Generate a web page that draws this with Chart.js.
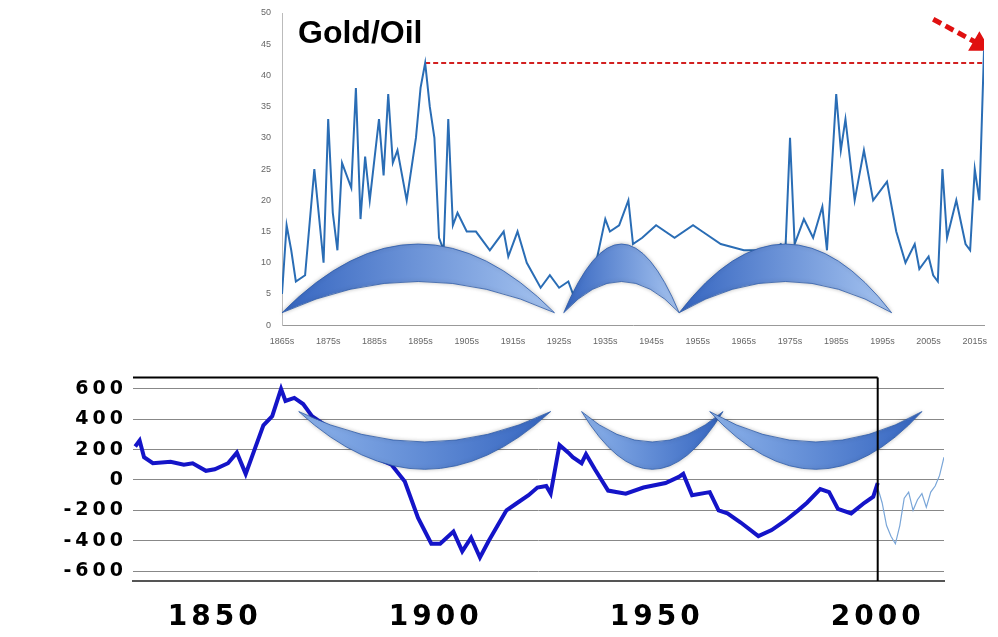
<!DOCTYPE html>
<html>
<head>
<meta charset="utf-8">
<script src="https://cdn.jsdelivr.net/npm/chart.js@4"></script>
<style>
  body { margin: 0; background: #fff; width: 998px; height: 637px; position: relative; overflow: hidden; }
  #topWrap { position: absolute; left: 240px; top: 0; width: 758px; height: 350px; }
  #botWrap { position: absolute; left: 0; top: 360px; width: 998px; height: 277px; }
  #title { position: absolute; left: 298px; top: 14px; font: bold 32px "Liberation Sans", Arial, sans-serif; color: #000; }
</style>
</head>
<body>
<div id="botWrap"><canvas id="botChart"></canvas></div>
<div id="topWrap"><canvas id="topChart"></canvas></div>
<div id="title">Gold/Oil</div>
<script>
// Gold/Oil ratio (top)
const ratioYears = [1865,1866,1867,1868,1870,1872,1874,1875,1876,1877,1878,1880,1881,1882,1883,1884,1886,1887,1888,1889,1890,1892,1894,1895,1896,1897,1898,1899,1900,1901,1902,1903,1905,1907,1910,1913,1914,1916,1918,1921,1923,1925,1927,1928,1930,1933,1935,1936,1938,1940,1941,1943,1946,1950,1954,1956,1960,1965,1970,1971,1973,1974,1975,1976,1978,1980,1982,1983,1985,1986,1987,1989,1991,1993,1996,1998,2000,2002,2003,2005,2006,2007,2008,2009,2011,2013,2014,2015,2016,2017];
const ratioValues = [5,16,12,7,8,25,10,33,18,12,26,22,38,17,27,20,33,24,37,26,28,20,30,38,42,35,30,14,12,33,16,18,15,15,12,15,11,15,10,6,8,6,7,5,6,10,17,15,16,20,13,14,16,14,16,15,13,12,12,12,13,12,30,13,17,14,19,12,37,28,33,20,28,20,23,15,10,13,9,11,8,7,25,14,20,13,12,25,20,44];
const peakLineYears = [1896, 2017];
const peakLineValues = [42, 42];
const arrowYears = [2006, 2016];
const arrowValues = [49, 45];
const ratioTicks = [1865,1875,1885,1895,1905,1915,1925,1935,1945,1955,1965,1975,1985,1995,2005,2015];

// bottom series
const devYears = [1832,1833,1834,1836,1840,1843,1845,1848,1850,1853,1855,1857,1859,1861,1863,1865,1866,1868,1870,1872,1875,1878,1882,1886,1890,1893,1896,1899,1901,1904,1906,1908,1910,1912,1914,1916,1918,1921,1923,1925,1926,1928,1930,1931,1933,1934,1936,1939,1943,1947,1952,1955,1956,1958,1962,1964,1966,1969,1973,1976,1979,1982,1984,1987,1989,1991,1994,1997,1999,2000];
const devValues = [220,260,150,110,120,100,110,60,70,110,180,40,200,360,420,600,520,540,500,420,360,280,200,150,100,-10,-250,-420,-420,-340,-470,-380,-510,-400,-300,-200,-160,-100,-50,-40,-90,230,180,150,110,170,70,-70,-90,-50,-20,20,40,-100,-80,-200,-220,-280,-370,-330,-270,-200,-150,-60,-80,-190,-220,-150,-110,-20];
const tailYears = [2000,2001,2002,2003,2004,2005,2006,2007,2008,2009,2010,2011,2012,2013,2014,2015,2016];
const tailValues = [-50,-150,-300,-370,-420,-300,-120,-80,-200,-130,-90,-180,-80,-40,30,150,260];
const devTicks = [-600,-400,-200,0,200,400,600];
const yearTicks = [1850,1900,1950,2000];

// crescent spans (years) for decorative arrows
const topArcs = [[1865,1924],[1926,1951],[1951,1997]];
const botArcs = [[1869,1926],[1933,1965],[1962,2010]];

function crescents(spans, up, yEnd, yOuter, yInner) {
  return {
    id: 'crescents',
    afterDatasetsDraw(chart) {
      const c = chart.ctx, xs = chart.scales.x, ys = chart.scales.y;
      c.save();
      spans.forEach(s => {
        const x1 = xs.getPixelForValue(s[0]), x2 = xs.getPixelForValue(s[1]);
        const ye = ys.getPixelForValue(yEnd), yo = ys.getPixelForValue(yOuter), yi = ys.getPixelForValue(yInner);
        const xm = (x1 + x2) / 2;
        const g = c.createLinearGradient(x1, 0, x2, 0);
        g.addColorStop(0, up ? '#3565c0' : '#8cb2ea');
        g.addColorStop(1, up ? '#a6c4f0' : '#3565c0');
        c.beginPath();
        c.moveTo(x1, ye);
        c.quadraticCurveTo(xm, 2 * yo - ye, x2, ye);
        c.quadraticCurveTo(xm, 2 * yi - ye, x1, ye);
        c.closePath();
        c.fillStyle = g;
        c.shadowColor = 'rgba(0,0,0,0.25)';
        c.shadowBlur = 4;
        c.fill();
        c.strokeStyle = '#2c5aa8';
        c.lineWidth = 0.8;
        c.stroke();
      });
      c.restore();
    }
  };
}

new Chart(document.getElementById('topChart'), {
  type: 'line',
  data: {
    datasets: [
      { data: ratioYears.map((x, i) => ({x, y: ratioValues[i]})), borderColor: '#2a6db5', borderWidth: 2, pointRadius: 0, tension: 0 },
      { data: peakLineYears.map((x, i) => ({x, y: peakLineValues[i]})), borderColor: '#d22020', borderWidth: 2, borderDash: [5, 3], pointRadius: 0 },
      { data: arrowYears.map((x, i) => ({x, y: arrowValues[i]})), borderColor: '#e01010', borderWidth: 5, borderDash: [9, 5],
        pointRadius: [0, 8], pointStyle: 'triangle', pointRotation: [0, 120], pointBackgroundColor: '#e01010', pointBorderColor: '#e01010' }
    ]
  },
  options: {
    responsive: true, maintainAspectRatio: false, animation: false,
    layout: { padding: { top: 8, right: 14, left: 0, bottom: 0 } },
    plugins: { legend: { display: false }, tooltip: { enabled: false } },
    scales: {
      x: { type: 'linear', min: 1865, max: 2017,
        afterBuildTicks: a => { a.ticks = ratioTicks.map(v => ({value: v})); },
        ticks: { color: '#666', font: { size: 9 }, maxRotation: 0, autoSkip: false, callback: v => v + 's' },
        grid: { display: false }, border: { color: '#999' } },
      y: { min: 0, max: 50, afterFit: a => { a.width = 42; },
        ticks: { stepSize: 5, color: '#666', font: { size: 9 } },
        grid: { display: false }, border: { color: '#bbb' } }
    }
  },
  plugins: [crescents(topArcs, true, 2, 13, 7)]
});

// wide, spaced-out tick lettering like the pasted picture
const spacing = {
  id: 'spacing',
  beforeDraw(chart) { chart.ctx.letterSpacing = '4px'; },
  afterDraw(chart) {
    const c = chart.ctx, xs = chart.scales.x, ys = chart.scales.y;
    c.save();
    c.strokeStyle = '#000';
    c.lineWidth = 2;
    c.beginPath();
    c.moveTo(xs.left, ys.top); c.lineTo(xs.getPixelForValue(2000), ys.top);
    c.moveTo(xs.getPixelForValue(2000), ys.top); c.lineTo(xs.getPixelForValue(2000), ys.bottom);
    c.stroke();
    c.restore();
  }
};

new Chart(document.getElementById('botChart'), {
  type: 'line',
  data: {
    datasets: [
      { data: devYears.map((x, i) => ({x, y: devValues[i]})), borderColor: '#1414c8', borderWidth: 4, pointRadius: 0 },
      { data: tailYears.map((x, i) => ({x, y: tailValues[i]})), borderColor: '#7aa6d8', borderWidth: 1.2, pointRadius: 0 }
    ]
  },
  options: {
    responsive: true, maintainAspectRatio: false, animation: false,
    layout: { padding: { top: 6, right: 54, left: 0, bottom: 0 } },
    plugins: { legend: { display: false }, tooltip: { enabled: false } },
    scales: {
      x: { type: 'linear', min: 1831.5, max: 2015,
        afterBuildTicks: a => { a.ticks = yearTicks.map(v => ({value: v})); },
        afterFit: a => { a.height = 56; },
        ticks: { color: '#000', font: { family: 'DejaVu Sans', size: 28, weight: 'bold' }, maxRotation: 0, autoSkip: false, padding: 12, callback: v => String(v) },
        grid: { display: false }, border: { color: '#555', width: 2 } },
      y: { min: -665, max: 675,
        afterBuildTicks: a => { a.ticks = devTicks.map(v => ({value: v})); },
        afterFit: a => { a.width = 133; },
        ticks: { color: '#000', font: { family: 'DejaVu Sans', size: 19, weight: 'bold' }, padding: 6 },
        grid: { color: '#888', drawTicks: false }, border: { display: false } }
    }
  },
  plugins: [crescents(botArcs, false, 450, 70, 250), spacing]
});
</script>
</body>
</html>
